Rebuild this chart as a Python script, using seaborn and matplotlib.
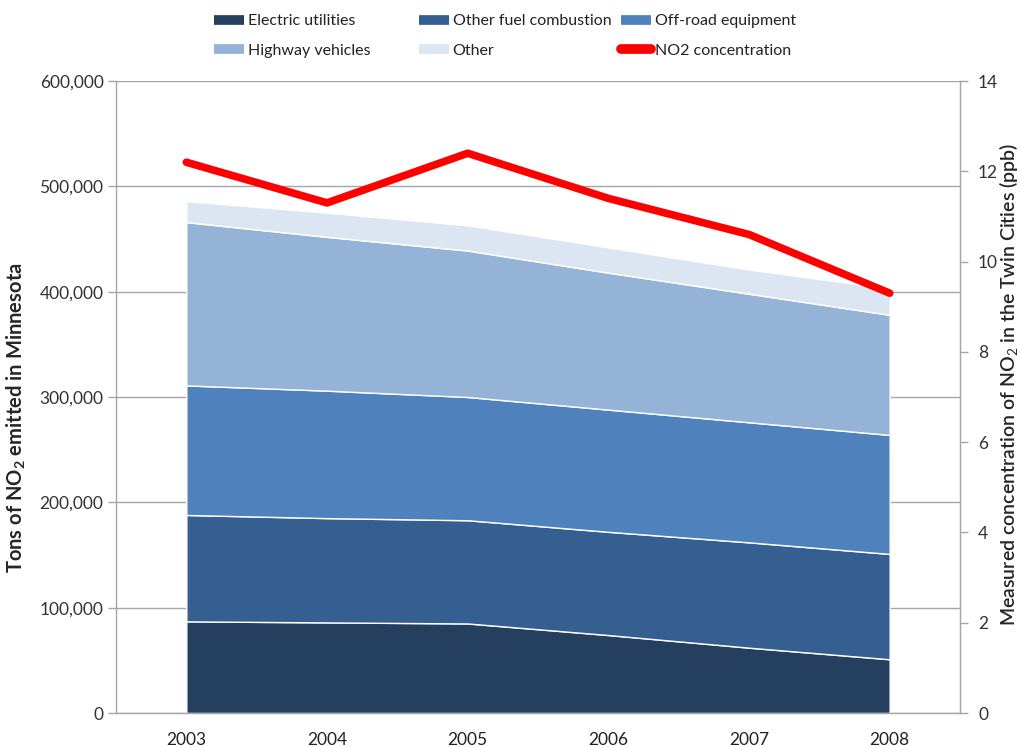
import matplotlib
matplotlib.use("Agg")
import matplotlib.pyplot as plt
import seaborn as sns
import numpy as np
from matplotlib.lines import Line2D
from matplotlib.ticker import FuncFormatter, FixedLocator

# ---- data ----
years = ["2003", "2004", "2005", "2006", "2007", "2008"]
electric_utilities = [87000, 86000, 85000, 74000, 62000, 51000]
other_fuel_combustion = [101000, 99000, 98000, 98000, 100000, 100000]
off_road_equipment = [123000, 121000, 117000, 116000, 114000, 113000]
highway_vehicles = [155000, 146000, 139000, 130000, 122000, 114000]
other = [20000, 23000, 24000, 24000, 23000, 25000]
no2_concentration = [12.2, 11.3, 12.4, 11.4, 10.6, 9.3]

series_names = ["Electric utilities", "Other fuel combustion", "Off-road equipment",
                "Highway vehicles", "Other"]
colors = ["#253F5F", "#365F91", "#4F81BD", "#95B3D7", "#DCE6F2"]
red = "#FF0000"

sns.set_style("white")
plt.rcParams['font.family'] = ['Lato', 'DejaVu Sans']
plt.rcParams['mathtext.fontset'] = 'custom'
plt.rcParams['mathtext.rm'] = 'Lato'
plt.rcParams['mathtext.bf'] = 'Lato:bold'

fig = plt.figure(figsize=(10.21, 7.47), dpi=100)
ax = fig.add_axes([116/1021, 34/747, 844/1021, 632/747])

x = np.arange(len(years))
ax.stackplot(x, electric_utilities, other_fuel_combustion, off_road_equipment,
             highway_vehicles, other, colors=colors, edgecolor="white",
             linewidth=1.0, zorder=2)

ax.set_xlim(-0.5, len(years) - 0.5)
ax.set_ylim(0, 600000)
ax.set_yticks(np.arange(0, 600001, 100000))
ax.yaxis.set_major_formatter(FuncFormatter(lambda v, p: f"{int(v):,}"))
ax.yaxis.grid(True, color="#A6A6A6", linewidth=1.0, zorder=0)
ax.set_axisbelow(True)

ax.set_xticks(x)
ax.set_xticklabels(years)
ax.xaxis.set_minor_locator(FixedLocator(np.arange(-0.5, len(years), 1.0)))
ax.tick_params(axis="x", which="major", length=0, pad=14, labelsize=12.5)
ax.tick_params(axis="x", which="minor", length=6, width=1, color="#A6A6A6", direction="out")
ax.tick_params(axis="y", length=6, width=1, color="#A6A6A6", direction="out",
               labelsize=12.5, pad=3)
for lab in ax.get_yticklabels():
    lab.set_color("#333333")
for lab in ax.get_xticklabels():
    lab.set_color("#222222")

for s in ax.spines.values():
    s.set_color("#A6A6A6")
    s.set_linewidth(1.0)
ax.spines["top"].set_visible(False)

ax.set_ylabel(r"Tons of NO$_\mathbf{2}$ emitted in Minnesota", fontsize=14.5,
              fontweight="bold")
ax.yaxis.set_label_coords(-0.104, 0.467)

ax2 = ax.twinx()
sns.lineplot(x=x, y=no2_concentration, ax=ax2, color=red, linewidth=5.5,
             solid_capstyle="round", solid_joinstyle="round", zorder=5)
ax2.set_ylim(0, 14)
ax2.set_yticks(np.arange(0, 15, 2))
ax2.tick_params(axis="y", length=6, width=1, color="#A6A6A6", direction="out",
                labelsize=12.5, pad=7)
for lab in ax2.get_yticklabels():
    lab.set_color("#333333")
for s in ax2.spines.values():
    s.set_visible(False)
ax2.spines["right"].set_visible(True)
ax2.spines["right"].set_color("#A6A6A6")
ax2.set_ylabel(r"Measured concentration of NO$_2$ in the Twin Cities (ppb)",
               fontsize=14, fontweight="semibold", rotation=90)
ax2.yaxis.set_label_coords(1.0445, 0.52)
ax2.grid(False)

# ---- legend: three columns placed manually ----
def h(c, cap="butt"):
    return Line2D([0], [0], color=c, linewidth=7, solid_capstyle=cap)

cols = [
    ([h(colors[0]), h(colors[3])], [series_names[0], series_names[3]], 214),
    ([h(colors[1]), h(colors[4])], [series_names[1], series_names[4]], 419),
    ([h(colors[2]), h(red, "round")], [series_names[2], "NO2 concentration"], 621),
]
for hs, ls, xp in cols:
    leg = fig.legend(hs, ls, loc="upper left", bbox_to_anchor=(xp/1021, 1 - 14/747),
                     frameon=False, fontsize=11.5, handlelength=1.85,
                     handletextpad=0.25, labelspacing=0.95, borderaxespad=0,
                     borderpad=0)
    for t in leg.get_texts():
        t.set_color("#222222")

fig.savefig("out.png", dpi=100)
